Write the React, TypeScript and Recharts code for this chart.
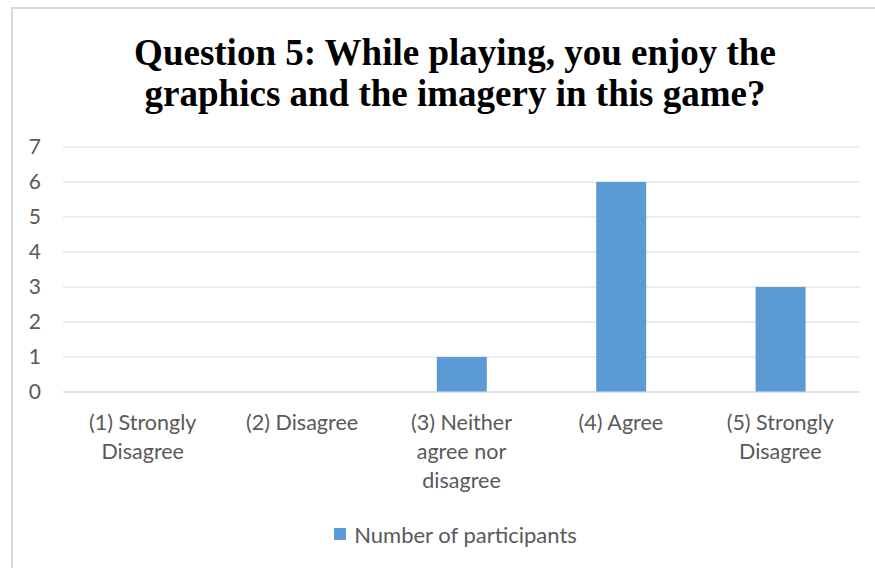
import React from "react";
import { BarChart, Bar, XAxis, YAxis, CartesianGrid, Legend } from "recharts";

const categories = [
  "(1) Strongly\nDisagree",
  "(2) Disagree",
  "(3) Neither\nagree nor\ndisagree",
  "(4) Agree",
  "(5) Strongly\nDisagree",
];
const participants = [0, 0, 1, 6, 3];
const yTicks = [0, 1, 2, 3, 4, 5, 6, 7];
const seriesName = "Number of participants";
const titleLines = [
  "Question 5: While playing, you enjoy the",
  "graphics and the imagery in this game?",
];

const data = categories.map((c, i) => ({ category: c, value: participants[i] }));

const LABEL_FONT = "Lato, 'Open Sans', sans-serif";
const GRAY = "#595959";
const BLUE = "#5B9BD5";

const CategoryTick = (props: any) => {
  const { x, y, payload } = props;
  const lines = String(payload.value).split("\n");
  return (
    <text
      x={x}
      y={y}
      textAnchor="middle"
      fill={GRAY}
      fontFamily={LABEL_FONT}
      fontSize={21.5}
    >
      {lines.map((l: string, i: number) => (
        <tspan key={i} x={x} dy={i === 0 ? 30 : 29}>
          {l}
        </tspan>
      ))}
    </text>
  );
};

const LegendContent = () => (
  <div
    style={{
      display: "flex",
      justifyContent: "center",
      alignItems: "center",
      height: 24,
      paddingLeft: 36,
      fontFamily: LABEL_FONT,
      fontSize: 22,
      color: GRAY,
    }}
  >
    <span
      style={{
        display: "inline-block",
        width: 12,
        height: 12,
        background: BLUE,
        marginRight: 8,
      }}
    />
    <span>{seriesName}</span>
  </div>
);

export default function App() {
  return (
    <div
      style={{
        position: "absolute",
        left: 0,
        top: 0,
        width: 875,
        height: 568,
        background: "#fff",
        overflow: "hidden",
      }}
    >
      <div
        style={{
          position: "absolute",
          left: 11,
          top: 7,
          width: 920,
          height: 620,
          border: "2px solid #D9D9D9",
          boxSizing: "border-box",
        }}
      />
      <div
        style={{
          position: "absolute",
          left: 0,
          top: 32,
          width: 910,
          textAlign: "center",
          fontFamily: "'Liberation Serif', 'Times New Roman', serif",
          fontWeight: "bold",
          fontSize: 37,
          lineHeight: "41px",
          color: "#000",
        }}
      >
        {titleLines.map((t, i) => (
          <div key={i}>{t}</div>
        ))}
      </div>
      <div style={{ position: "absolute", left: 0, top: 0 }}>
        <BarChart
          width={875}
          height={568}
          data={data}
          margin={{ top: 147, right: 15, bottom: 52, left: 0 }}
          barCategoryGap={0}
        >
          <CartesianGrid vertical={false} stroke="#D9D9D9" strokeWidth={1} />
          <XAxis
            dataKey="category"
            axisLine={{ stroke: "#D9D9D9" }}
            tickLine={false}
            interval={0}
            height={100}
            tick={<CategoryTick />}
          />
          <YAxis
            domain={[0, 7]}
            ticks={yTicks}
            width={63}
            axisLine={false}
            tickLine={false}
            tickSize={6}
            tickMargin={16}
            tick={{ fill: GRAY, fontFamily: LABEL_FONT, fontSize: 21 }}
          />
          <Legend
            content={<LegendContent />}
            wrapperStyle={{ position: "absolute", top: 522, left: 0, width: 875 }}
          />
          <Bar
            dataKey="value"
            name={seriesName}
            fill={BLUE}
            barSize={50}
            isAnimationActive={false}
          />
        </BarChart>
      </div>
    </div>
  );
}
